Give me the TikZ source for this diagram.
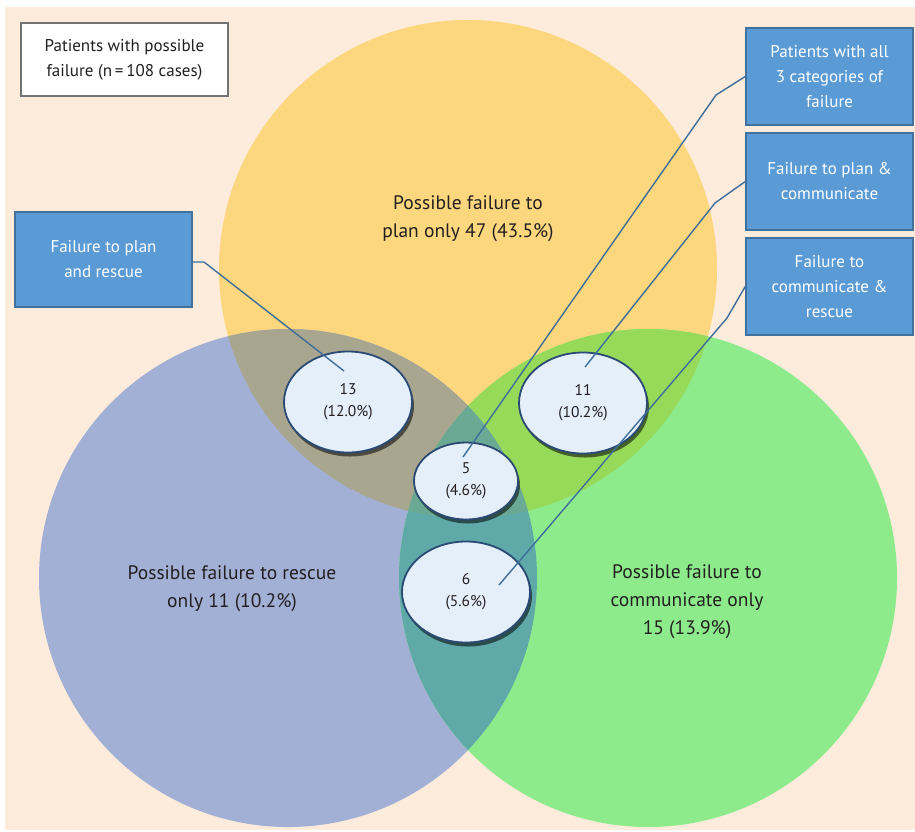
\documentclass[tikz,border=0pt]{standalone}
\usepackage{fontspec}
\setmainfont{PT Sans}
\usetikzlibrary{shadows,calc,shapes.geometric}
\definecolor{bgc}{HTML}{FDEBDC}
\definecolor{yc}{HTML}{FDD77E}
\definecolor{bc}{HTML}{A3B0D5}
\definecolor{gc}{HTML}{8DEB8C}
\definecolor{ybc}{HTML}{A9A68F}
\definecolor{ygc}{HTML}{97DA5A}
\definecolor{bgcc}{HTML}{5FA9A8}
\definecolor{allc}{HTML}{6AA994}
\definecolor{boxfill}{HTML}{5B9BD5}
\definecolor{boxline}{HTML}{41719C}
\definecolor{ellfill}{HTML}{E4EFFA}
\definecolor{ellline}{HTML}{2B4A73}
\definecolor{linkc}{HTML}{3F6E9A}
\definecolor{txt}{HTML}{231F20}
\tikzset{
  bluebox/.style={draw=boxline, line width=1.5pt, fill=boxfill, text=white, align=center, font=\fontsize{17}{25}\selectfont, inner sep=0pt},
  whitebox/.style={draw=black!55, line width=1.2pt, fill=white, text=txt, align=center, font=\fontsize{17}{25}\selectfont, inner sep=0pt},
  numell/.style={ellipse, draw=ellline, line width=1.8pt, fill=ellfill, text=txt, align=center, font=\fontsize{15.5}{22}\selectfont, inner sep=0pt,
    drop shadow={shadow xshift=2pt, shadow yshift=-4pt, opacity=0.55, fill=black}},
  bigtxt/.style={text=txt, align=center, font=\fontsize{19.5}{28}\selectfont},
  link/.style={draw=linkc, line width=1.4pt}
}
\begin{document}
\begin{tikzpicture}[x=1pt,y=-1pt]
\useasboundingbox (0,0) rectangle (915,831);
\fill[bgc] (5,7) rectangle (915,830);
% circles
\def\Yc{(468,269) circle[radius=249]}
\def\Bc{(288,578) circle[radius=249]}
\def\Gc{(648,578) circle[radius=249]}
\fill[yc] \Yc;
\fill[bc] \Bc;
\fill[gc] \Gc;
\begin{scope}\clip \Yc; \fill[ybc] \Bc; \end{scope}
\begin{scope}\clip \Yc; \fill[ygc] \Gc; \end{scope}
\begin{scope}\clip \Bc; \fill[bgcc] \Gc; \end{scope}
\begin{scope}\clip \Yc; \clip \Bc; \fill[allc] \Gc; \end{scope}
% texts
\node[bigtxt] (tplan) at (468,219) {Possible failure to\\plan only 47 (43.5\%)};
\node[bigtxt] (tresc) at (232,589) {Possible failure to rescue\\only 11 (10.2\%)};
\node[bigtxt] (tcomm) at (687,602) {Possible failure to\\communicate only\\15 (13.9\%)};
% boxes
\node[whitebox, minimum width=207pt, minimum height=73pt] (total) at (124.5,59.5) {Patients with possible\\failure (n\,=\,108 cases)};
\node[bluebox, minimum width=177pt, minimum height=95pt] (bpr) at (103.5,259.5) {Failure to plan\\and rescue};
\node[bluebox, minimum width=167pt, minimum height=97pt] (ball) at (829.5,76.5) {Patients with all\\3 categories of\\failure};
\node[bluebox, minimum width=167pt, minimum height=97pt] (bpc) at (829.5,181.5) {Failure to plan \&\\communicate};
\node[bluebox, minimum width=167pt, minimum height=97pt] (bcr) at (829.5,286.5) {Failure to\\communicate \&\\rescue};
% ellipses
\node[numell, minimum width=128pt, minimum height=101pt] (e13) at (348,402) {13\\(12.0\%)};
\node[numell, minimum width=128pt, minimum height=101pt] (e11) at (583,403) {11\\(10.2\%)};
\node[numell, minimum width=104pt, minimum height=77pt] (e5) at (466,481) {5\\(4.6\%)};
\node[numell, minimum width=128pt, minimum height=101pt] (e6) at (466,592) {6\\(5.6\%)};
% link end points
\coordinate (p13) at ($(e13.center)+(-4,-31)$);
\coordinate (p11) at ($(e11.center)+(2,-36)$);
\coordinate (p5) at ($(e5.center)+(-3,-24)$);
\coordinate (p6) at ($(e6.center)+(33,-7)$);
\coordinate (k13) at (204,262);
\coordinate (kall) at (716,95);
\coordinate (kpc) at (715,203);
\coordinate (kcr) at (727,318);
\draw[link] (bpr.east |- k13) -- (k13) -- (p13);
\draw[link] (ball.west) -- (kall) -- (p5);
\draw[link] (bpc.west) -- (kpc) -- (p11);
\draw[link] (bcr.west) -- (kcr) -- (p6);
\end{tikzpicture}
\end{document}
